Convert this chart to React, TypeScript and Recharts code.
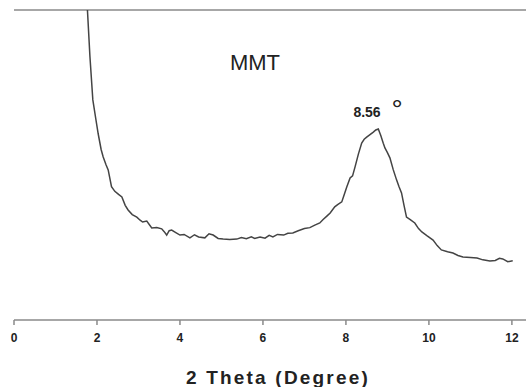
import React from 'react';
import { LineChart, Line, XAxis, YAxis, ReferenceLine } from 'recharts';

// 2 theta (degree) and relative intensity
const twoTheta = [
  1.77, 1.83, 1.9, 1.97, 2.03, 2.1, 2.15, 2.22, 2.27, 2.35, 2.43, 2.52, 2.6, 2.68, 2.75, 2.85,
  2.96, 3.04, 3.1, 3.2, 3.32, 3.44, 3.56, 3.62, 3.68, 3.74, 3.8, 3.9, 4.0, 4.1, 4.24, 4.35,
  4.45, 4.6, 4.7, 4.8, 4.92, 5.04, 5.2, 5.37, 5.48, 5.6, 5.72, 5.8, 5.93, 6.05, 6.15, 6.24,
  6.35, 6.5, 6.6, 6.72, 6.85, 7.0, 7.13, 7.25, 7.37, 7.45, 7.54, 7.62, 7.73, 7.8, 7.9, 7.96,
  8.02, 8.1, 8.16, 8.22, 8.3, 8.38, 8.44, 8.5, 8.58, 8.66, 8.72, 8.78, 8.84, 8.9, 8.94, 9.0,
  9.06, 9.14, 9.22, 9.28, 9.34, 9.4, 9.46, 9.55, 9.66, 9.75, 9.83, 9.95, 10.1, 10.2, 10.3,
  10.45, 10.58, 10.7, 10.82, 11.0, 11.16, 11.3, 11.47, 11.6, 11.7, 11.78, 11.9, 12.02,
];
const intensity = [
  100, 85, 71, 65, 60, 55, 52.6, 50, 48.4, 43, 41.5, 40.5, 39.7, 37, 35.5, 34,
  33.2, 32.2, 31.6, 31.9, 29.7, 29.8, 29.4, 28.5, 27.4, 28.8, 29.0, 28.2, 27.4, 27.6, 26.5, 27.5,
  26.8, 26.5, 27.8, 27.4, 26.3, 26.1, 26.0, 26.1, 26.6, 26.2, 26.8, 26.3, 26.8, 26.4, 27.3, 26.8,
  27.6, 27.4, 28.0, 28.1, 28.8, 29.5, 29.8, 30.6, 31.3, 32.4, 33.5, 34.5, 36.5, 37.2, 38.1, 40.5,
  42.9, 45.8, 46.5, 49.4, 53.5, 57.1, 58.3, 59.0, 59.8, 60.6, 61.3, 61.6, 59.5, 57, 55.5, 54,
  52.3, 48.5, 45.2, 43, 41.0, 37, 33.2, 32.4, 31.3, 29.5, 28.4, 27.2, 25.8, 24.0, 22.6,
  22.0, 21.6, 20.8, 20.3, 20.2, 20.0, 19.4, 19.0, 19.2, 19.9, 19.7, 18.8, 19.1,
];
const xTicks = [0, 2, 4, 6, 8, 10, 12];

const data = twoTheta.map((x, i) => ({ x, y: intensity[i] }));

const axisColor = '#8a8a8a';
const font = 'Arial, "Liberation Sans", sans-serif';

export default function App() {
  return (
    <div style={{ position: 'fixed', left: 0, top: 0, background: '#fff' }}>
      <LineChart width={526} height={387} data={data} margin={{ top: 10, right: 0, bottom: 37, left: 14 }}>
        <XAxis
          dataKey="x"
          type="number"
          domain={[0, 12.34]}
          ticks={xTicks}
          allowDataOverflow
          height={30}
          stroke={axisColor}
          strokeWidth={1.5}
          tickSize={5}
          tick={{ fill: '#222', fontSize: 12, fontWeight: 'bold', fontFamily: font }}
          tickMargin={8}
        />
        <YAxis
          type="number"
          domain={[0, 100]}
          allowDataOverflow
          width={0}
          tick={false}
          tickLine={false}
          stroke={axisColor}
          strokeWidth={1.5}
        />
        <ReferenceLine y={100} stroke={axisColor} strokeWidth={1.5} />
        <Line
          type="linear"
          dataKey="y"
          stroke="#444"
          strokeWidth={1.5}
          dot={false}
          isAnimationActive={false}
        />
        <text x={255} y={70} textAnchor="middle" fontSize={22} fontFamily={font} fill="#222">
          MMT
        </text>
        <text x={367} y={117} textAnchor="middle" fontSize={14} fontWeight="bold" fontFamily={font} fill="#222">
          8.56
        </text>
        <text x={397} y={119} textAnchor="middle" fontSize={28} fontFamily={font} fill="#222">
          °
        </text>
        <text
          x={278}
          y={384}
          textAnchor="middle"
          fontSize={19}
          fontWeight="bold"
          letterSpacing={2.2}
          fontFamily={font}
          fill="#222"
        >
          2 Theta (Degree)
        </text>
      </LineChart>
    </div>
  );
}
